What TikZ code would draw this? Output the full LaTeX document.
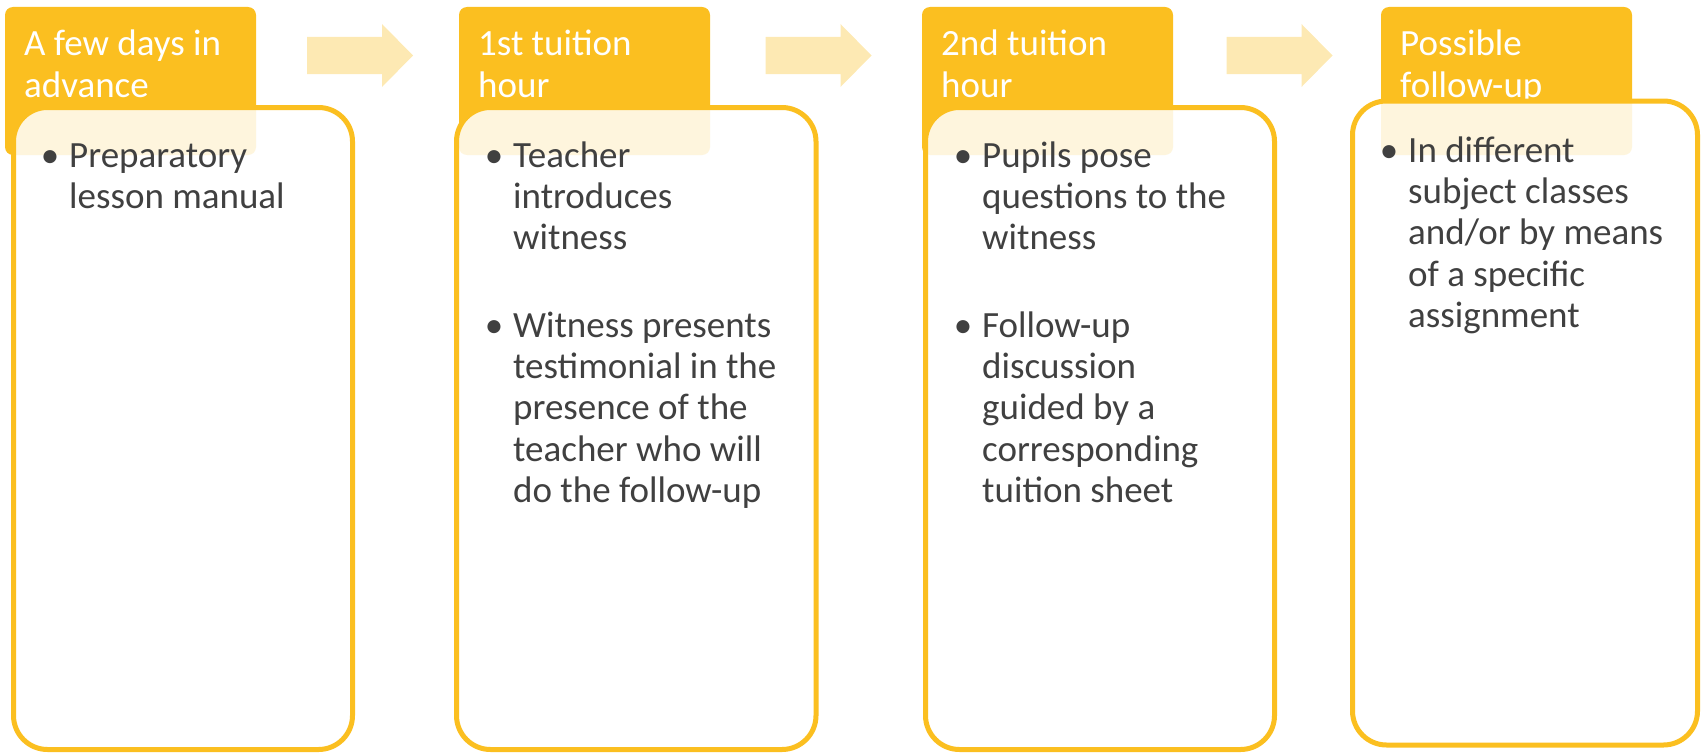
\documentclass[tikz,border=0pt]{standalone}
\usepackage{fontspec}
\setmainfont{Carlito}
\usetikzlibrary{calc}
\definecolor{gold}{HTML}{FBBF20}
\definecolor{paleGold}{HTML}{FDE9B3}
\definecolor{ink}{HTML}{404040}

\begin{document}
\begin{tikzpicture}[x=1pt,y=-1pt,
  head/.style={rectangle,rounded corners=8pt,fill=gold,minimum width=251pt,minimum height=148pt,inner sep=0pt,outer sep=0pt,anchor=north west},
  headtext/.style={anchor=north west,inner sep=0pt,align=left,text=white,font=\fontsize{37}{42}\selectfont},
  panel/.style={rectangle,rounded corners=34pt,draw=gold,line width=5pt,fill=white,fill opacity=0.85,inner sep=0pt,outer sep=0pt,anchor=north west,minimum height=642pt},
  itemtext/.style={anchor=north west,inner sep=0pt,align=left,text=ink,font=\fontsize{37}{41.3}\selectfont}]
  \useasboundingbox (0,0) rectangle (1702,752);
  % step headers
  \node[head] (H1) at (5,7) {};
  \node[head] (H2) at (459,7) {};
  \node[head] (H3) at (922,7) {};
  \node[head] (H4) at (1381,7) {};
  \node[headtext] (T1) at (24,25.6) {\strut A few days in\\advance};
  \node[headtext] (T2) at (478,25.6) {\strut 1st tuition\\hour};
  \node[headtext] (T3) at (941,25.6) {\strut 2nd tuition\\hour};
  \node[headtext] (T4) at (1400,25.6) {\strut Possible\\follow-up};
  % arrows between the steps
  \foreach \a/\b in {H1/H2,H2/H3,H3/H4}
    \fill[paleGold] ($(\a.north east)!.5!(\b.north west)$) ++(-50.5,30) -- ++(75,0) -- ++(0,-13) -- ++(31,31.5) -- ++(-31,31.5) -- ++(0,-13) -- ++(-75,0) -- cycle;
  % step contents
  \node[panel,minimum width=339pt] (B1) at (13.5,107.5) {};
  \node[panel,minimum width=359.5pt] (B2) at (456.5,107.5) {};
  \node[panel,minimum width=349pt] (B3) at (925.5,107.5) {};
  \node[panel,minimum width=345pt,minimum height=644pt] (B4) at (1352.5,101) {};
  \node[itemtext] (L1) at (69,138.1) {\strut\llap{\textbullet\hspace{10pt}}Preparatory\\lesson manual};
  \node[itemtext] (L2) at (513,138.1) {\strut\llap{\textbullet\hspace{10pt}}Teacher\\introduces\\witness\\[46pt]
    \llap{\textbullet\hspace{10pt}}Witness presents\\testimonial in the\\presence of the\\teacher who will\\do the follow-up};
  \node[itemtext] (L3) at (982,138.1) {\strut\llap{\textbullet\hspace{10pt}}Pupils pose\\questions to the\\witness\\[46pt]
    \llap{\textbullet\hspace{10pt}}Follow-up\\discussion\\guided by a\\corresponding\\tuition sheet};
  \node[itemtext] (L4) at (1408,133.1) {\strut\llap{\textbullet\hspace{10pt}}In different\\subject classes\\and/or by means\\of a specific\\assignment};
\end{tikzpicture}
\end{document}
